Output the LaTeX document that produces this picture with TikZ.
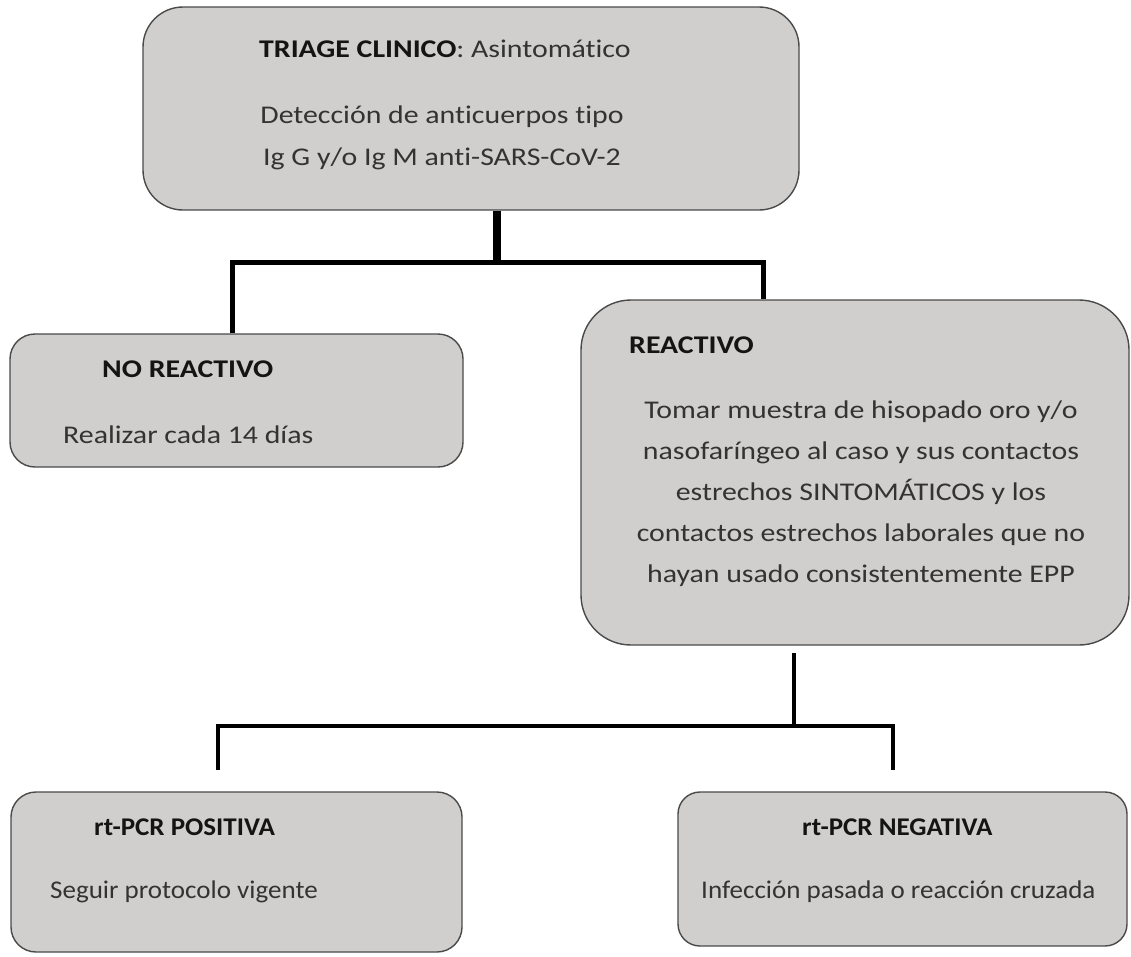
\documentclass[tikz,border=0pt]{standalone}
\usepackage{fontspec}
\setmainfont[Ligatures=NoCommon]{Carlito}
\newfontfamily\wideA[Ligatures=NoCommon,FakeStretch=1.17]{Carlito}
\newfontfamily\wideB[Ligatures=NoCommon,FakeStretch=1.06]{Carlito}
\definecolor{boxfill}{HTML}{D0CFCE}
\definecolor{boxline}{HTML}{4A4A4A}
\definecolor{bodytext}{HTML}{333333}
\definecolor{headtext}{HTML}{141414}
\begin{document}
\begin{tikzpicture}[x=1pt,y=-1pt,
  box/.style={draw=boxline, fill=boxfill, line width=1.4pt, rectangle, inner sep=0pt},
  headA/.style={inner sep=0pt, anchor=base west, text=headtext, font=\wideA\fontsize{25.5}{30}\selectfont\bfseries},
  bodyA/.style={inner sep=0pt, anchor=base west, text=bodytext, font=\wideA\fontsize{25.5}{30}\selectfont},
  headB/.style={inner sep=0pt, anchor=base west, text=headtext, font=\wideB\fontsize{25.5}{30}\selectfont\bfseries},
  bodyB/.style={inner sep=0pt, anchor=base west, text=bodytext, font=\wideB\fontsize{25.5}{30}\selectfont},
  thickline/.style={line width=5pt, draw=black},
  thinline/.style={line width=3.5pt, draw=black}]
\useasboundingbox (0,0) rectangle (1131,956);
% boxes
\node[box, rounded corners=40pt, minimum width=656pt, minimum height=203pt] (top) at (471,108.5) {};
\node[box, rounded corners=25pt, minimum width=453pt, minimum height=133pt] (nr) at (236.5,400.5) {};
\node[box, rounded corners=50pt, minimum width=548pt, minimum height=345pt] (re) at (855,472.5) {};
\node[box, rounded corners=25pt, minimum width=451pt, minimum height=160pt] (pos) at (236.5,872) {};
\node[box, rounded corners=22pt, minimum width=449pt, minimum height=154pt] (neg) at (902.5,869) {};
% texts
\node[bodyA] (t1) at (259,57) {\textcolor{headtext}{\textbf{TRIAGE CLINICO}}: Asintomático};
\node[bodyA, anchor=center, align=center, font=\wideA\fontsize{25.5}{42}\selectfont] (t2) at (442,138) {Detección de anticuerpos tipo\\Ig G y/o Ig M anti-SARS-CoV-2};
\node[headA] (nrh) at (102,377) {NO REACTIVO};
\node[bodyA] (nrb) at (63,443) {Realizar cada 14 días};
\node[headA] (reh) at (629,353) {REACTIVO};
\node[bodyA, anchor=center, align=center, font=\wideA\fontsize{25.5}{41}\selectfont] (reb) at (861,493.5) {Tomar muestra de hisopado oro y/o\\nasofaríngeo al caso y sus contactos\\estrechos SINTOMÁTICOS y los\\contactos estrechos laborales que no\\hayan usado consistentemente EPP};
\node[headB] (posh) at (94,835) {rt-PCR POSITIVA};
\node[bodyB] (posb) at (50,898) {Seguir protocolo vigente};
\node[headB] (negh) at (802,835) {rt-PCR NEGATIVA};
\node[bodyB] (negb) at (701,898) {Infección pasada o reacción cruzada};
% connectors
\coordinate (jm) at (497,262);
\coordinate (jl) at (232,262);
\coordinate (jr) at (763,262);
\draw[line width=8pt] (jm |- top.south) -- (jm);
\draw[thickline] (jl |- nr.north) -- (jl) -- (jr) -- (jr |- re.north);
\coordinate (bt) at (794,653);
\coordinate (bm) at (794,726);
\coordinate (bl) at (218,726);
\coordinate (br) at (893,726);
\coordinate (blend) at (218,770);
\coordinate (brend) at (893,770);
\draw[thinline] (bt) -- (bm);
\draw[thinline] (blend) -- (bl) -- (br) -- (brend);
\end{tikzpicture}
\end{document}
